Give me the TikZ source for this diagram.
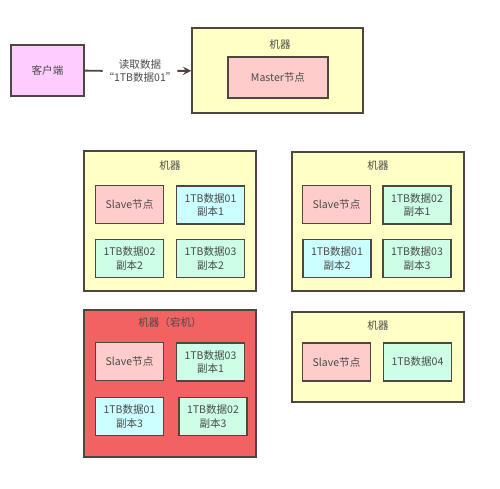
\documentclass[tikz,border=0pt]{standalone}
\usepackage{fontspec}
\setmainfont{Noto Sans CJK SC}
\usetikzlibrary{arrows, positioning}
\definecolor{edgegray}{HTML}{4F4642}
\definecolor{txtgray}{HTML}{4A4A4A}
\definecolor{machinefill}{HTML}{FFFFC6}
\definecolor{clientfill}{HTML}{FFCCFF}
\definecolor{nodefill}{HTML}{FFCCCC}
\definecolor{bluefill}{HTML}{CCFFFF}
\definecolor{greenfill}{HTML}{CCFFE6}
\definecolor{downfill}{HTML}{F26262}

\begin{document}
\begin{tikzpicture}[
    x=0.02cm, y=-0.02cm,
    every node/.style={font=\fontsize{6}{7.6}\selectfont, text=txtgray, align=center},
    machine/.style={rectangle, draw=edgegray, line width=0.8pt, fill=machinefill, minimum width=3.44cm},
    deadmachine/.style={machine, fill=downfill},
    client/.style={rectangle, draw=edgegray, line width=0.8pt, fill=clientfill, minimum width=1.46cm, minimum height=1.02cm},
    role/.style={rectangle, draw=edgegray, line width=0.8pt, fill=nodefill, minimum width=1.36cm, minimum height=0.76cm, inner sep=1pt},
    copyA/.style={role, fill=bluefill},
    copyB/.style={role, fill=greenfill},
    arrow/.style={->, >=stealth, line width=1.1pt, draw=edgegray}
]
\useasboundingbox (0,0) rectangle (500,489);

% Client and master
\node[client] (client) at (47.5,70.5) {客户端};
\node[machine, minimum width=3.42cm, minimum height=1.70cm] (m0) at (277.5,70.5) {};
\node (m0label) at (280,44) {机器};
\node[role, minimum width=2.0cm, minimum height=0.82cm] (master) at (278,77.5) {Master节点};

% Read request
\node[minimum width=1.48cm, inner xsep=0pt, inner ysep=1pt] (req) at (140,71) {读取数据\\“1TB数据01”};
\draw[line width=1.1pt, draw=edgegray] (client) -- (req);
\draw[arrow] (req) -- (m0);

% Machine 1
\node[machine, minimum height=2.80cm] (m1) at (170,221) {};
\node (m1label) at (170,165) {机器};
\node[role] (slave1) at (129.5,204.5) {Slave节点};
\node[copyA] (m1d01) at (210.5,205) {1TB数据01\\副本1};
\node[copyB] (m1d02) at (129.5,258.5) {1TB数据02\\副本2};
\node[copyB] (m1d03) at (210.5,258.5) {1TB数据03\\副本2};

% Machine 2
\node[machine, minimum height=2.78cm] (m2) at (378,221.5) {};
\node (m2label) at (378,165) {机器};
\node[role] (slave2) at (336.5,204.5) {Slave节点};
\node[copyB] (m2d02) at (417,205) {1TB数据02\\副本1};
\node[copyA] (m2d01) at (337,258.5) {1TB数据01\\副本2};
\node[copyB] (m2d03) at (417,258.5) {1TB数据03\\副本3};

% Machine 3 (down)
\node[deadmachine, minimum height=2.94cm] (m3) at (170,383.5) {};
\node (m3label) at (170,322) {机器（宕机）};
\node[role] (slave3) at (129.5,361.5) {Slave节点};
\node[copyB] (m3d03) at (210.5,362) {1TB数据03\\副本1};
\node[copyA] (m3d01) at (129.5,416.5) {1TB数据01\\副本3};
\node[copyB] (m3d02) at (213,416.5) {1TB数据02\\副本3};

% Machine 4
\node[machine, minimum height=1.80cm] (m4) at (378,357) {};
\node (m4label) at (378,325) {机器};
\node[role] (slave4) at (336.5,362) {Slave节点};
\node[copyB] (m4d04) at (417.5,362) {1TB数据04};

\end{tikzpicture}
\end{document}
